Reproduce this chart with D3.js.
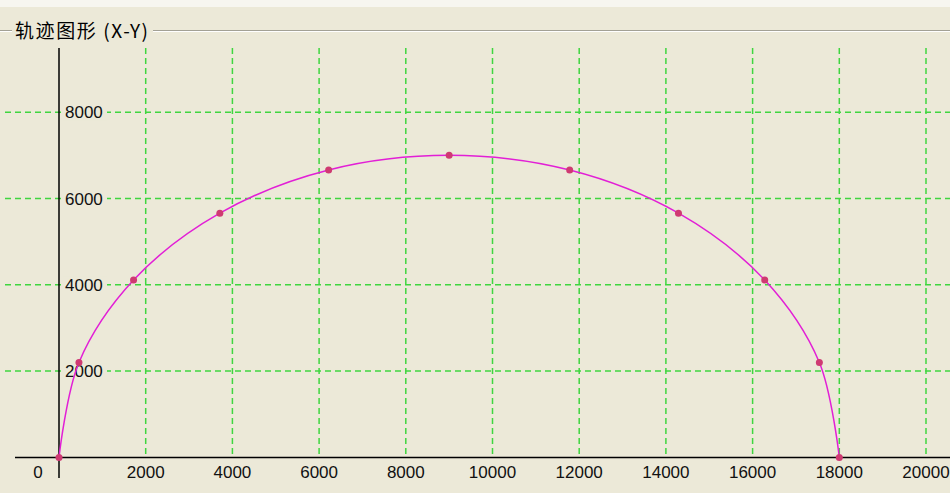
<!DOCTYPE html>
<html><head><meta charset="utf-8">
<script src="https://cdn.jsdelivr.net/npm/d3@7"></script>
<style>html,body{margin:0;padding:0;background:#ECE9D8;}svg{display:block;}</style>
</head><body>
<svg id="c" width="950" height="493"></svg>
<script>
const title = "轨迹图形 (X-Y)";
const xTicks = [0, 2000, 4000, 6000, 8000, 10000, 12000, 14000, 16000, 18000, 20000];
const yTicks = [2000, 4000, 6000, 8000];
const xValues = [0, 460, 1720, 3710, 6220, 9000, 11780, 14290, 16280, 17540, 18000];
const yValues = [0, 2200, 4110, 5660, 6660, 7000, 6660, 5660, 4110, 2200, 0];
const points = xValues.map((x, i) => ({x, y: yValues[i]}));

const svg = d3.select("#c");
const W = 950, H = 493;
svg.append("rect").attr("width", W).attr("height", H).attr("fill", "#ECE9D8");
svg.append("rect").attr("width", W).attr("height", 7).attr("fill", "#F7F6F0");

const x = d3.scaleLinear().domain([0, 20000]).range([59, 926]);
const y = d3.scaleLinear().domain([0, 8000]).range([457.4, 112.2]);

// group box frame line
const fr = svg.append("g");
[[0, 12], [153, W]].forEach(([a, b]) => {
  fr.append("line").attr("x1", a).attr("x2", b).attr("y1", 30.5).attr("y2", 30.5).attr("stroke", "#A3A195");
  fr.append("line").attr("x1", a).attr("x2", b).attr("y1", 31.5).attr("y2", 31.5).attr("stroke", "#FFFFFF");
});
svg.append("text").attr("x", 15).attr("y", 31).attr("dy", "0.36em")
  .attr("font-family", "'Noto Sans CJK SC', sans-serif").attr("font-size", 19)
  .attr("textLength", 133).attr("lengthAdjust", "spacing")
  .attr("fill", "#000").text(title);

const gridColor = "#3fd63f";
// vertical grid
svg.append("g").selectAll("line").data(xTicks.filter(d => d > 0)).join("line")
  .attr("x1", d => x(d)).attr("x2", d => x(d)).attr("y1", 48).attr("y2", y(0))
  .attr("stroke", gridColor).attr("stroke-width", 1.5).attr("stroke-dasharray", "6,4");
// horizontal grid
svg.append("g").selectAll("line").data(yTicks).join("line")
  .attr("x1", 5).attr("x2", W).attr("y1", d => y(d)).attr("y2", d => y(d))
  .attr("stroke", gridColor).attr("stroke-width", 1.5).attr("stroke-dasharray", "6,4");

// axes lines
svg.append("line").attr("x1", x(0)).attr("x2", x(0)).attr("y1", 48).attr("y2", 478)
  .attr("stroke", "#000").attr("stroke-width", 1.5);
svg.append("line").attr("x1", 15).attr("x2", W).attr("y1", y(0)).attr("y2", y(0))
  .attr("stroke", "#000").attr("stroke-width", 1.5);

const font = "'Liberation Sans', Arial, sans-serif";
// y labels with background
const yl = svg.append("g").selectAll("g").data(yTicks).join("g")
  .attr("transform", d => `translate(65,${y(d)})`);
yl.append("rect").attr("x", -2).attr("y", -8).attr("width", 44).attr("height", 16).attr("fill", "#ECE9D8");
yl.append("text").attr("dy", "0.36em").attr("font-family", font).attr("font-size", 17)
  .attr("fill", "#111").text(d => d);

// x labels
svg.append("g").selectAll("text").data(xTicks).join("text")
  .attr("x", d => d === 0 ? x(d) - 21 : x(d)).attr("y", 472).attr("dy", "0.36em")
  .attr("text-anchor", "middle").attr("font-family", font).attr("font-size", 17)
  .attr("fill", "#111").text(d => d);

// curve
const line = d3.line().x(d => x(d.x)).y(d => y(d.y)).curve(d3.curveCatmullRom.alpha(0.5));
svg.append("path").datum(points).attr("d", line).attr("fill", "none")
  .attr("stroke", "#E21FD6").attr("stroke-width", 1.5);
svg.append("g").selectAll("circle").data(points).join("circle")
  .attr("cx", d => x(d.x)).attr("cy", d => y(d.y)).attr("r", 3.5).attr("fill", "#CF3A72");
</script>
</body></html>
